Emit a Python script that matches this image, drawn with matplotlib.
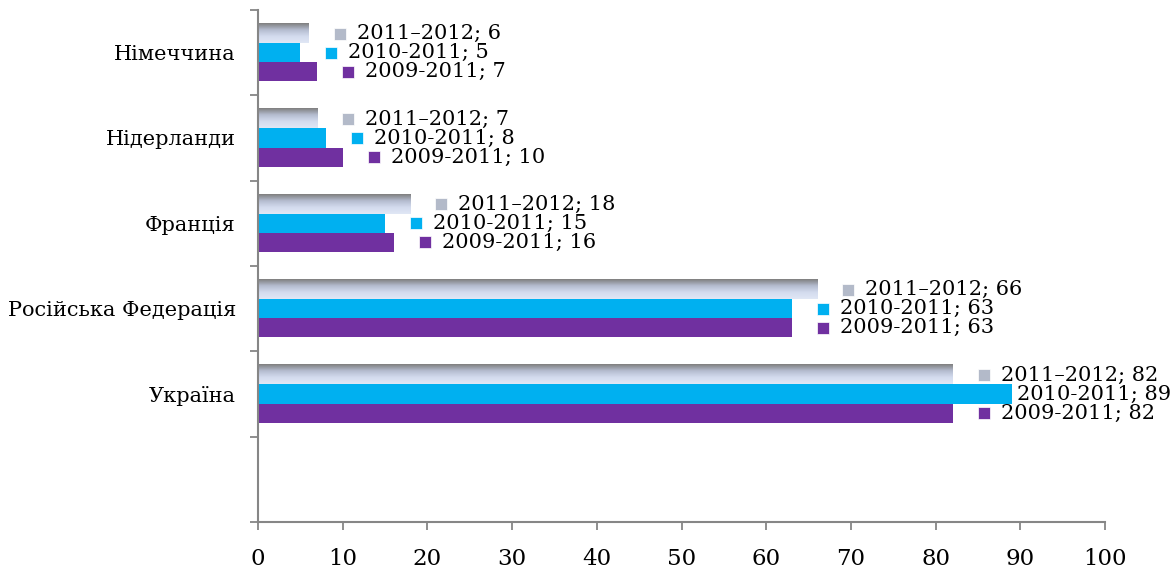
import numpy as np
import matplotlib
matplotlib.use('Agg')
from matplotlib import pyplot as plt
from matplotlib.colors import LinearSegmentedColormap

countries = ['Україна', 'Російська Федерація', 'Франція', 'Нідерланди', 'Німеччина']
s2011_2012 = [82, 66, 18, 7, 6]
s2010_2011 = [89, 63, 15, 8, 5]
s2009_2011 = [82, 63, 16, 10, 7]
series_names = ['2011–2012', '2010-2011', '2009-2011']

plt.rcParams['font.family'] = ['DejaVu Serif']
fs = 15
axis_col = '#868686'

fig = plt.figure(figsize=(11.7, 5.71), dpi=100)
ax = fig.add_axes([0.2205, 0.0858, 0.724, 0.8967])

h = 0.223
ypos = np.arange(1, len(countries) + 1)
grad = LinearSegmentedColormap.from_list('g', ['#7f7f7f', '#b4bccf', '#d3dbee', '#e0e7f5'])
g_arr = np.linspace(0, 1, 64).reshape(-1, 1)

# top bar with gradient
for y, v in zip(ypos, s2011_2012):
    ax.imshow(g_arr, cmap=grad, aspect='auto', origin='upper',
              extent=[0, v, y + h / 2, y + 1.5 * h], zorder=2, interpolation='bilinear')
ax.barh(ypos, s2010_2011, height=h, color='#00b0f0', zorder=2)
ax.barh(ypos - h, s2009_2011, height=h, color='#7030a0', zorder=2)

# data labels with legend keys
mk_off, tx_off = 3.66, 5.67
series = [(s2011_2012, h, '#b3bac9'), (s2010_2011, 0, '#00b0f0'), (s2009_2011, -h, '#7030a0')]
for (vals, dy, col), name in zip(series, series_names):
    for y, v in zip(ypos, vals):
        label = f'{name}; {v}'
        if v >= 85:
            ax.text(v + 0.6, y + dy, label, fontsize=fs, va='center', ha='left', clip_on=False)
        else:
            ax.plot(v + mk_off, y + dy, marker='s', ms=8.5, color=col, mec='white', mew=0.5,
                    clip_on=False, zorder=3)
            ax.text(v + tx_off, y + dy, label, fontsize=fs, va='center', ha='left', clip_on=False)

ax.set_xlim(0, 100)
ax.set_ylim(-0.5, len(countries) + 0.5)
ax.set_xticks(range(0, 101, 10))
ax.set_xticklabels([str(t) for t in range(0, 101, 10)], fontsize=16.5)
ax.set_yticks(ypos)
ax.set_yticklabels(countries, fontsize=15)
ax.set_yticks(np.arange(-0.5, len(countries) + 1), minor=True)
ax.tick_params(axis='y', which='major', length=0, pad=16)
ax.tick_params(axis='y', which='minor', length=6, width=1.3, color=axis_col)
ax.tick_params(axis='x', length=6, width=1.3, color=axis_col, pad=13)

for s in ['top', 'right']:
    ax.spines[s].set_visible(False)
for s in ['left', 'bottom']:
    ax.spines[s].set_color(axis_col)
    ax.spines[s].set_linewidth(1.5)

fig.savefig('out.png', dpi=100)
